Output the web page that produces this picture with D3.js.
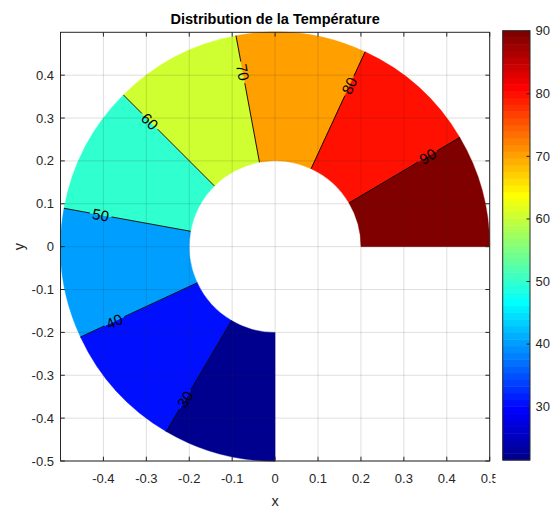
<!DOCTYPE html>
<html>
<head>
<meta charset="utf-8">
<script src="https://cdn.jsdelivr.net/npm/d3@7"></script>
<style>
  body { margin: 0; background: #fff; }
  svg { display: block; font-family: "Liberation Sans", Arial, Helvetica, sans-serif; }
</style>
</head>
<body>
<svg id="chart" width="552" height="512"></svg>
<script>
// contour levels and the polar angle (deg, counter-clockwise from +x) where each one crosses the ring
const levels = [30, 40, 50, 60, 70, 80, 90]
const levelAngles = [239.5, 204.9, 169.7, 135.0, 100.5, 65.2, 30.6]
const ringStartAngle = 270
const ringEndAngle = 0
const innerR = 0.2
const outerR = 0.5
const colorLimits = [21.4, 90]

const xTicks = [-0.4, -0.3, -0.2, -0.1, 0, 0.1, 0.2, 0.3, 0.4, 0.5]
const yTicks = [-0.5, -0.4, -0.3, -0.2, -0.1, 0, 0.1, 0.2, 0.3, 0.4]
const colorbarTicks = [30, 40, 50, 60, 70, 80, 90]

const titleText = "Distribution de la Température"
const xLabel = "x"
const yLabel = "y"

const axisColor = "#262626"
const labelRadius = 0.413

// MATLAB jet(64)
function jet64() {
  const u = k => (k >= 1 && k <= 16) ? k / 16 : (k >= 17 && k <= 31) ? 1 : (k >= 32 && k <= 47) ? (48 - k) / 16 : 0
  const out = []
  for (let i = 1; i <= 64; i++) {
    out.push(d3.rgb(u(i - 24) * 255, u(i - 8) * 255, u(i + 8) * 255).formatHex())
  }
  return out
}
const jetColors = jet64()
const colorScale = d3.scaleQuantize().domain(colorLimits).range(jetColors)

const svg = d3.select("#chart")
const plot = { left: 60.5, right: 489.7, top: 32.3, bottom: 461 }

const x = d3.scaleLinear().domain([-0.5, 0.5]).range([plot.left, plot.right])
const y = d3.scaleLinear().domain([-0.5, 0.5]).range([plot.bottom, plot.top])
const rPx = r => x(r) - x(0)
const toRad = deg => deg * Math.PI / 180
// d3.arc measures from 12 o'clock clockwise
const arcAngle = deg => toRad(90 - deg)

svg.append("rect").attr("width", 552).attr("height", 512).attr("fill", "#fff")

// filled bands
const boundaries = [ringStartAngle, ...levelAngles, ringEndAngle]
const bandValues = [colorLimits[0], ...levels]
const arc = d3.arc()
  .innerRadius(rPx(innerR))
  .outerRadius(rPx(outerR))

const ring = svg.append("g").attr("transform", `translate(${x(0)},${y(0)})`)
ring.selectAll("path.band")
  .data(bandValues)
  .enter()
  .append("path")
  .attr("class", "band")
  .attr("d", (d, i) => arc({ startAngle: arcAngle(boundaries[i]), endAngle: arcAngle(boundaries[i + 1]) }))
  .attr("fill", d => colorScale(d))
  .attr("stroke", d => colorScale(d))
  .attr("stroke-width", 0.4)

// grid lines on top of the fill
const grid = svg.append("g")
grid.selectAll("line.gx")
  .data(xTicks)
  .enter()
  .append("line")
  .attr("x1", d => x(d)).attr("x2", d => x(d))
  .attr("y1", plot.top).attr("y2", plot.bottom)
  .attr("stroke", axisColor).attr("stroke-opacity", 0.15).attr("stroke-width", 1)
grid.selectAll("line.gy")
  .data(yTicks)
  .enter()
  .append("line")
  .attr("y1", d => y(d)).attr("y2", d => y(d))
  .attr("x1", plot.left).attr("x2", plot.right)
  .attr("stroke", axisColor).attr("stroke-opacity", 0.15).attr("stroke-width", 1)

// contour lines, broken where the label sits
const gap = 11
const lines = svg.append("g")
levels.forEach((lv, i) => {
  const a = toRad(levelAngles[i])
  const cx = x(0), cy = y(0)
  const pt = rp => [cx + rp * Math.cos(a), cy - rp * Math.sin(a)]
  const rl = rPx(labelRadius)
  const segs = [[rPx(innerR), rl - gap], [rl + gap, rPx(outerR)]]
  segs.forEach(([r0, r1]) => {
    const p0 = pt(r0), p1 = pt(r1)
    lines.append("line")
      .attr("x1", p0[0]).attr("y1", p0[1])
      .attr("x2", p1[0]).attr("y2", p1[1])
      .attr("stroke", "#000").attr("stroke-width", 0.9)
  })
  const pl = pt(rl)
  let rot = -levelAngles[i]
  while (rot > 90) rot -= 180
  while (rot <= -90) rot += 180
  lines.append("text")
    .attr("transform", `translate(${pl[0]},${pl[1]}) rotate(${rot})`)
    .attr("text-anchor", "middle")
    .attr("dy", "0.36em")
    .attr("font-size", "15px")
    .attr("fill", "#000")
    .text(lv)
})

// axes box
svg.append("rect")
  .attr("x", plot.left).attr("y", plot.top)
  .attr("width", plot.right - plot.left).attr("height", plot.bottom - plot.top)
  .attr("fill", "none").attr("stroke", axisColor).attr("stroke-width", 1)

const tickLen = 4.3
const fmt = d => String(Math.round(d * 10) / 10)
const axes = svg.append("g")
xTicks.forEach(t => {
  axes.append("line").attr("x1", x(t)).attr("x2", x(t)).attr("y1", plot.bottom).attr("y2", plot.bottom - tickLen).attr("stroke", axisColor)
  axes.append("line").attr("x1", x(t)).attr("x2", x(t)).attr("y1", plot.top).attr("y2", plot.top + tickLen).attr("stroke", axisColor)
  axes.append("text")
    .attr("x", x(t)).attr("y", 482.5)
    .attr("text-anchor", "middle")
    .attr("font-size", "13px").attr("fill", axisColor)
    .text(fmt(t))
})
yTicks.forEach(t => {
  axes.append("line").attr("y1", y(t)).attr("y2", y(t)).attr("x1", plot.left).attr("x2", plot.left + tickLen).attr("stroke", axisColor)
  axes.append("line").attr("y1", y(t)).attr("y2", y(t)).attr("x1", plot.right).attr("x2", plot.right - tickLen).attr("stroke", axisColor)
  axes.append("text")
    .attr("x", 54).attr("y", y(t))
    .attr("dy", "0.35em")
    .attr("text-anchor", "end")
    .attr("font-size", "13px").attr("fill", axisColor)
    .text(fmt(t))
})

svg.append("text")
  .attr("x", x(0)).attr("y", 506)
  .attr("text-anchor", "middle")
  .attr("font-size", "14.5px").attr("fill", axisColor)
  .text(xLabel)
svg.append("text")
  .attr("transform", `translate(24,${y(0)}) rotate(-90)`)
  .attr("text-anchor", "middle")
  .attr("font-size", "14.5px").attr("fill", axisColor)
  .text(yLabel)
svg.append("text")
  .attr("x", x(0)).attr("y", 23.5)
  .attr("text-anchor", "middle")
  .attr("font-size", "14.5px").attr("font-weight", "bold").attr("fill", "#000")
  .text(titleText)

// colorbar (its white background clips the last x tick label, as in the original)
const cb = { left: 502.7, right: 530, top: 30.7, bottom: 460 }
svg.append("rect").attr("x", 495.5).attr("y", 466).attr("width", 56).attr("height", 24).attr("fill", "#fff")
const cbY = d3.scaleLinear().domain(colorLimits).range([cb.bottom, cb.top])
const step = (colorLimits[1] - colorLimits[0]) / jetColors.length
svg.append("g").selectAll("rect")
  .data(jetColors)
  .enter()
  .append("rect")
  .attr("x", cb.left)
  .attr("width", cb.right - cb.left)
  .attr("y", (d, i) => cbY(colorLimits[0] + (i + 1) * step))
  .attr("height", (d, i) => cbY(colorLimits[0] + i * step) - cbY(colorLimits[0] + (i + 1) * step) + 0.5)
  .attr("fill", d => d)
svg.append("rect")
  .attr("x", cb.left).attr("y", cb.top)
  .attr("width", cb.right - cb.left).attr("height", cb.bottom - cb.top)
  .attr("fill", "none").attr("stroke", axisColor).attr("stroke-width", 1)
const cbAxis = d3.axisRight(cbY).tickValues(colorbarTicks).tickSize(-3.5).tickPadding(5.5).tickFormat(d => String(d))
const cbG = svg.append("g").attr("transform", `translate(${cb.right},0)`).call(cbAxis)
cbG.select(".domain").remove()
cbG.selectAll("line").attr("stroke", axisColor)
cbG.selectAll("text").attr("font-size", "13px").attr("fill", axisColor)
  .attr("font-family", "Liberation Sans, Arial, Helvetica, sans-serif")
</script>
</body>
</html>
